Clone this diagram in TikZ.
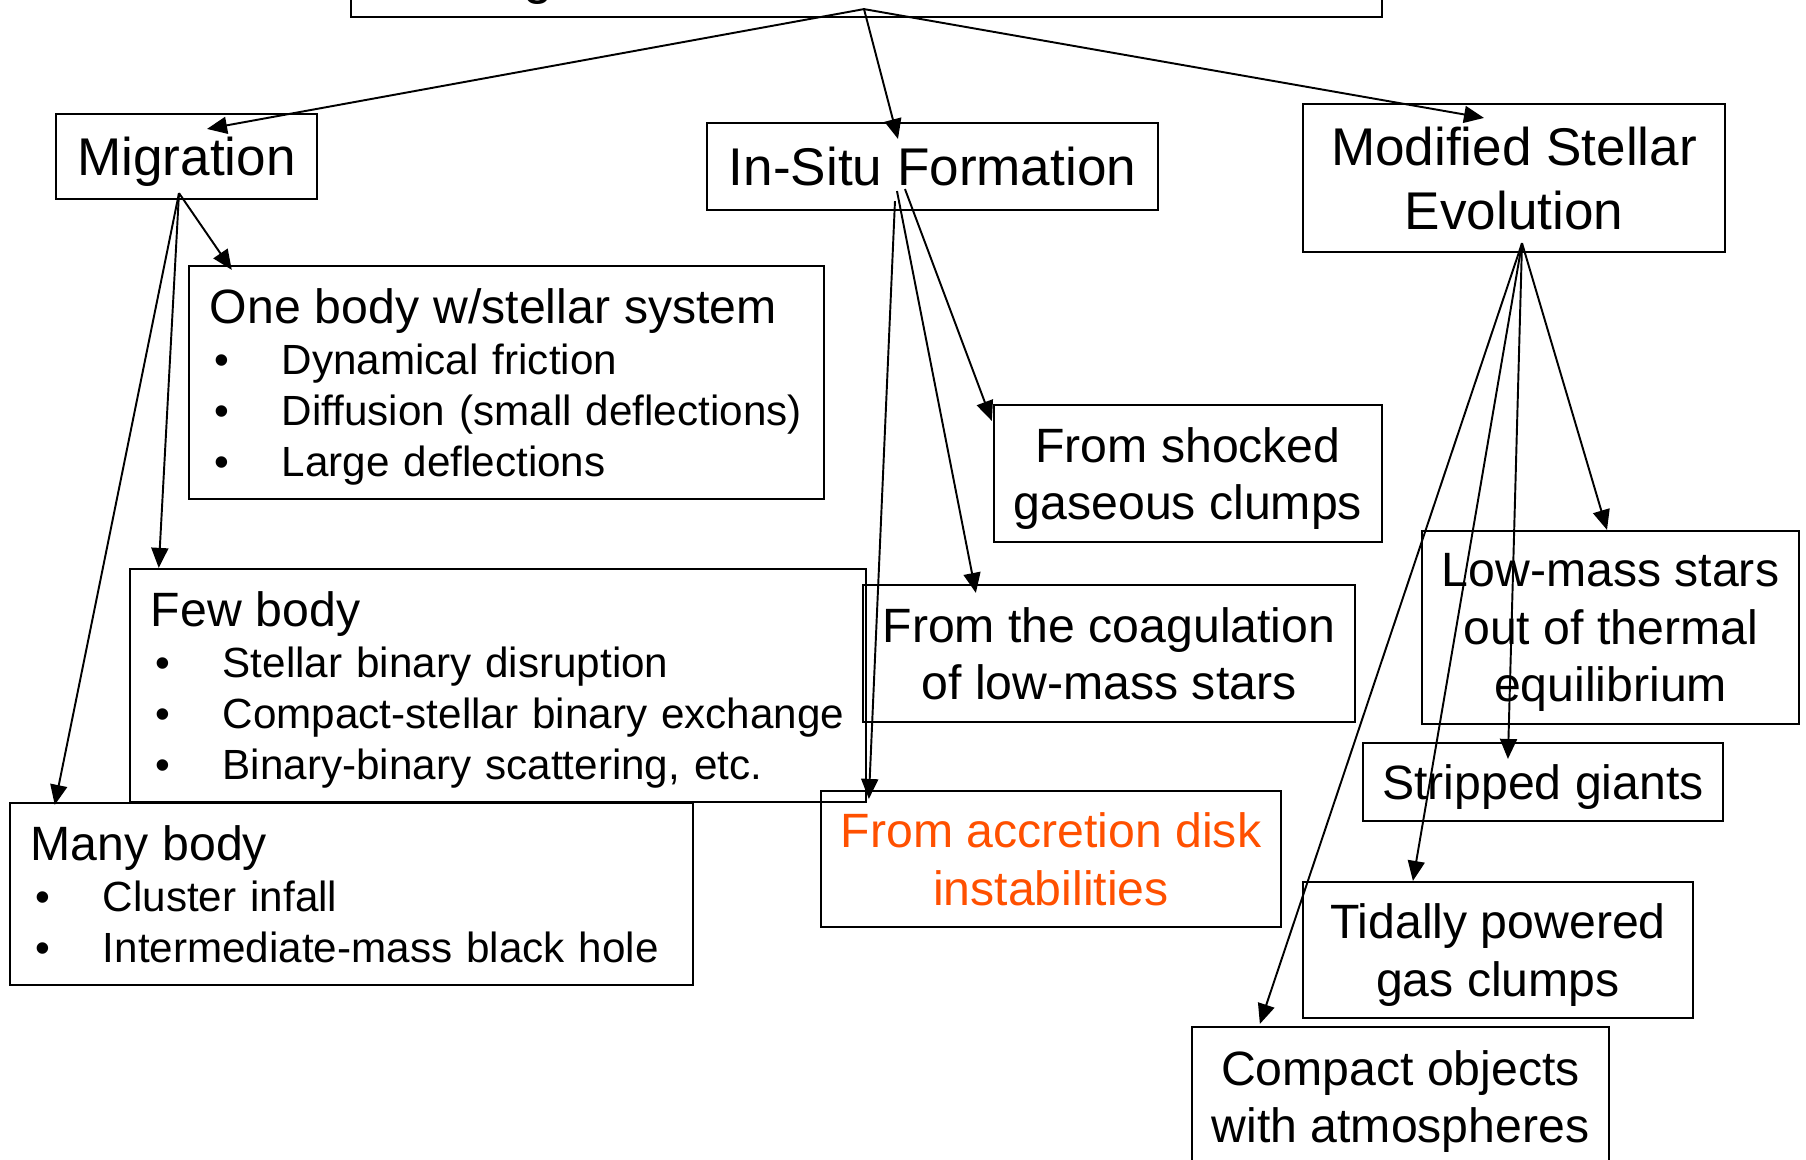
\documentclass[tikz,border=0pt]{standalone}
\usepackage{fontspec}
\setmainfont{Liberation Sans}
\usetikzlibrary{arrows.meta}
\definecolor{accrorange}{RGB}{255,80,0}
\newcommand\bigtxt{\fontsize{15.1pt}{18.1pt}\selectfont}
\newcommand\midtxt{\fontsize{13.7pt}{16.4pt}\selectfont}
\newcommand\bultxt{\fontsize{12pt}{14.5pt}\selectfont}
\newcommand\bitem[1]{\raisebox{0pt}[\height][0pt]{\hspace*{0.05cm}\makebox[0.67cm][l]{•}#1}}
\tikzset{
  box/.style={draw, line width=0.6pt, inner sep=0pt, align=center, text depth=0pt},
  listbox/.style={draw, line width=0.6pt, inner xsep=0.21cm, inner ysep=0pt,
    align=left, font=\bultxt},
  arr/.style={-{Triangle[length=0.2cm,width=0.17cm]}, line width=0.55pt},
}
\begin{document}
\begin{tikzpicture}[x=0.01cm, y=-0.01cm]
\useasboundingbox (0,0) rectangle (1806,1159);
\node(top)   [box, minimum width=10.31cm, minimum height=0.8cm] at (866.5,-23) {};
\node(topg)  [inner sep=0pt, anchor=base, font=\bigtxt] at (538,-7) {g};
\node(mig)   [box, font=\bigtxt, minimum width=2.61cm, minimum height=0.85cm] at (186.5,156.5) {Migration};
\node(ins)   [box, font=\bigtxt, minimum width=4.51cm, minimum height=0.87cm] at (932.5,166.5) {In-Situ Formation};
\node(mod)   [box, font=\bigtxt, minimum width=4.22cm, minimum height=1.48cm] at (1514,178) {Modified Stellar\\Evolution};

\node(one)   [listbox, text width=5.93cm, minimum height=2.33cm] at (506.5,382.5)
  {\mbox{\midtxt One body w/stellar system}\\
   \bitem{Dynamical friction}\\
   \bitem{Diffusion (small deflections)}\\
   \bitem{Large deflections}};
\node(few)   [listbox, text width=6.94cm, minimum height=2.33cm] at (498,685.5)
  {\mbox{\midtxt Few body}\\
   \bitem{Stellar binary disruption}\\
   \bitem{Compact-stellar binary exchange}\\
   \bitem{Binary-binary scattering, etc.}};
\node(many)  [listbox, text width=6.41cm, minimum height=1.82cm] at (351.5,894)
  {\mbox{\midtxt Many body}\\
   \bitem{Cluster infall}\\
   \bitem{Intermediate-mass black hole}};

\node(shock) [box, font=\midtxt, minimum width=3.88cm, minimum height=1.37cm] at (1188,473.5) {From shocked\\gaseous clumps};
\node(coag)  [box, font=\midtxt, minimum width=4.92cm, minimum height=1.37cm] at (1109,653.5) {From the coagulation\\of low-mass stars};
\node(accr)  [box, font=\midtxt, text=accrorange, minimum width=4.60cm, minimum height=1.36cm] at (1051,859) {From accretion disk\\instabilities};

\node(low)   [box, font=\midtxt, minimum width=3.77cm, minimum height=1.93cm] at (1610.5,627.5) {Low-mass stars\\out of thermal\\equilibrium};
\node(strip) [box, font=\midtxt, minimum width=3.60cm, minimum height=0.78cm] at (1543,782) {Stripped giants};
\node(tidal) [box, font=\midtxt, minimum width=3.90cm, minimum height=1.36cm] at (1498,950) {Tidally powered\\gas clumps};
\node(comp)  [box, font=\midtxt, minimum width=4.17cm, minimum height=1.39cm] at (1400.5,1096.5) {Compact objects\\with atmospheres};

% start points of the connectors
\coordinate(topO)  at ([xshift=-0.025cm,yshift=0.09cm]top.south);
\coordinate(migO)  at ([xshift=-0.075cm,yshift=0.07cm]mig.south);
\coordinate(insO1) at ([xshift=-0.275cm,yshift=0.22cm]ins.south);
\coordinate(insO2) at ([xshift=-0.355cm,yshift=0.20cm]ins.south);
\coordinate(insO3) at ([xshift=-0.375cm,yshift=0.10cm]ins.south);
\coordinate(modO)  at ([xshift=0.08cm,yshift=0.10cm]mod.south);

\draw[arr](topO)  -- ([xshift=0.205cm,yshift=-0.16cm]mig.north);
\draw[arr](topO)  -- ([xshift=-0.345cm,yshift=-0.17cm]ins.north);
\draw[arr](topO)  -- ([xshift=-0.30cm,yshift=-0.15cm]mod.north);

\draw[arr](migO)  -- ([xshift=0.44cm,yshift=-0.05cm]one.north west);
\draw[arr](migO)  -- ([xshift=0.30cm]few.north west);
\draw[arr](migO)  -- ([xshift=0.46cm,yshift=-0.03cm]many.north west);

\draw[arr](insO1) -- ([xshift=-0.01cm,yshift=-0.17cm]shock.north west);
\draw[arr](insO2) -- ([xshift=1.14cm,yshift=-0.09cm]coag.north west);
\draw[arr](insO3) -- ([xshift=0.49cm,yshift=-0.09cm]accr.north west);

\draw[arr](modO)  -- ([xshift=-0.035cm]low.north);
\draw[arr](modO)  -- ([xshift=1.46cm,yshift=-0.17cm]strip.north west);
\draw[arr](modO)  -- ([xshift=1.11cm]tidal.north west);
\draw[arr](modO)  -- ([xshift=0.69cm,yshift=0.02cm]comp.north west);
\end{tikzpicture}
\end{document}
